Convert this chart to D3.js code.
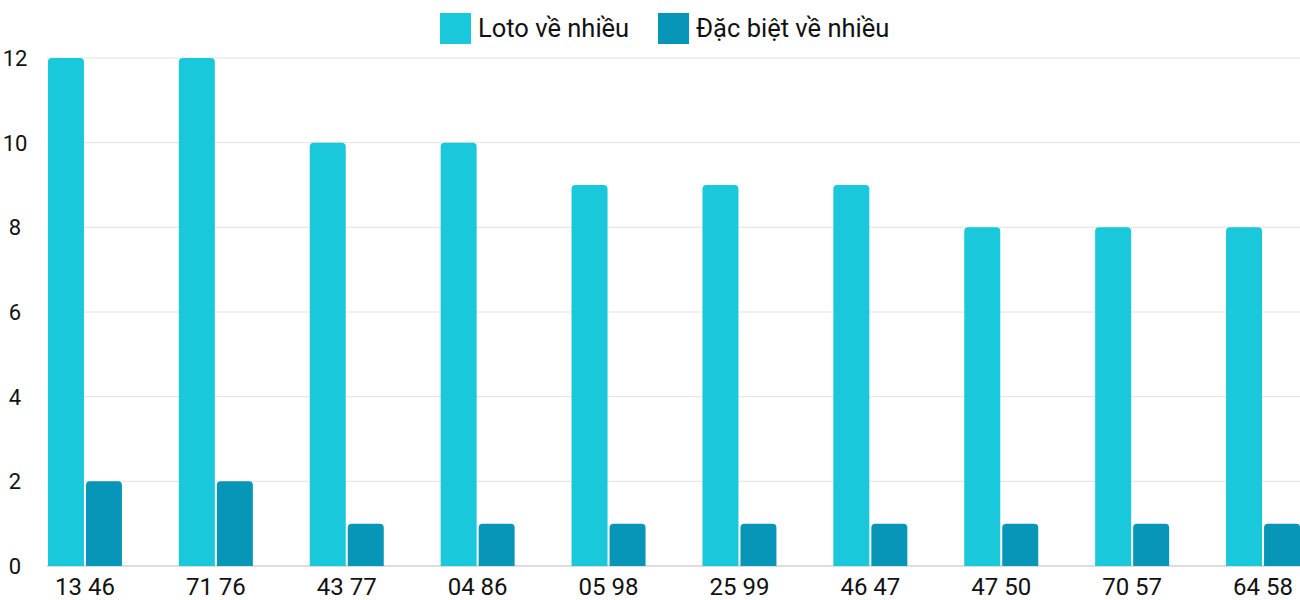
<!DOCTYPE html>
<html><head><meta charset="utf-8">
<script src="https://cdn.jsdelivr.net/npm/d3@7"></script>
<style>body{margin:0;background:#fff}text{font-family:Roboto,sans-serif;fill:#111}</style>
</head><body><svg id="chart" width="1300" height="600"></svg>
<script>
// chart data
var categories = ["13 46","71 76","43 77","04 86","05 98","25 99","46 47","47 50","70 57","64 58"];
var loto = [12,12,10,10,9,9,9,8,8,8];
var dacBiet = [2,2,1,1,1,1,1,1,1,1];
var seriesNames = ["Loto về nhiều","Đặc biệt về nhiều"];
var colors = ["#1ac8db","#0795b8"];
var yTicks = [0,2,4,6,8,10,12];

var svg = d3.select("#chart");
var y = d3.scaleLinear().domain([0,12]).range([566,58]);
var x = d3.scaleBand().domain(categories).range([19.5,1328.5]);

// grid lines
svg.selectAll(".grid").data(yTicks).enter().append("line")
  .attr("x1",47).attr("x2",1300)
  .attr("y1",d=>y(d)).attr("y2",d=>y(d))
  .attr("stroke",d=>d==0?"#bbb":"#e2e2e2").attr("stroke-width",1);

svg.selectAll(".ytick").data(yTicks).enter().append("text")
  .attr("x",15).attr("y",d=>y(d)+8).attr("text-anchor","middle")
  .attr("font-size",22).text(d=>d);

// rounded-top bar path
function bar(x0,w,yTop,yBot,r){
  r=Math.min(r,yBot-yTop);
  return "M"+x0+","+yBot+"V"+(yTop+r)+"Q"+x0+","+yTop+" "+(x0+r)+","+yTop+
    "H"+(x0+w-r)+"Q"+(x0+w)+","+yTop+" "+(x0+w)+","+(yTop+r)+"V"+yBot+"Z";
}
var bw=36, gap=2;
[loto,dacBiet].forEach(function(vals,s){
  svg.selectAll(".bar"+s).data(vals).enter().append("path")
    .attr("fill",colors[s])
    .attr("d",function(d,i){
      var c=x(categories[i])+x.bandwidth()/2;
      var x0 = s==0 ? c-gap/2-bw : c+gap/2;
      return bar(x0,bw,y(d),y(0),4);
    });
});

svg.selectAll(".xlab").data(categories).enter().append("text")
  .attr("x",d=>x(d)+x.bandwidth()/2).attr("y",595)
  .attr("text-anchor","middle").attr("font-size",24).text(d=>d);

// legend
var lx=[440,658];
seriesNames.forEach(function(n,i){
  svg.append("rect").attr("x",lx[i]).attr("y",13).attr("width",31).attr("height",31).attr("fill",colors[i]);
  svg.append("text").attr("x",lx[i]+38).attr("y",37).attr("font-size",25.5).text(n);
});
</script></body></html>
